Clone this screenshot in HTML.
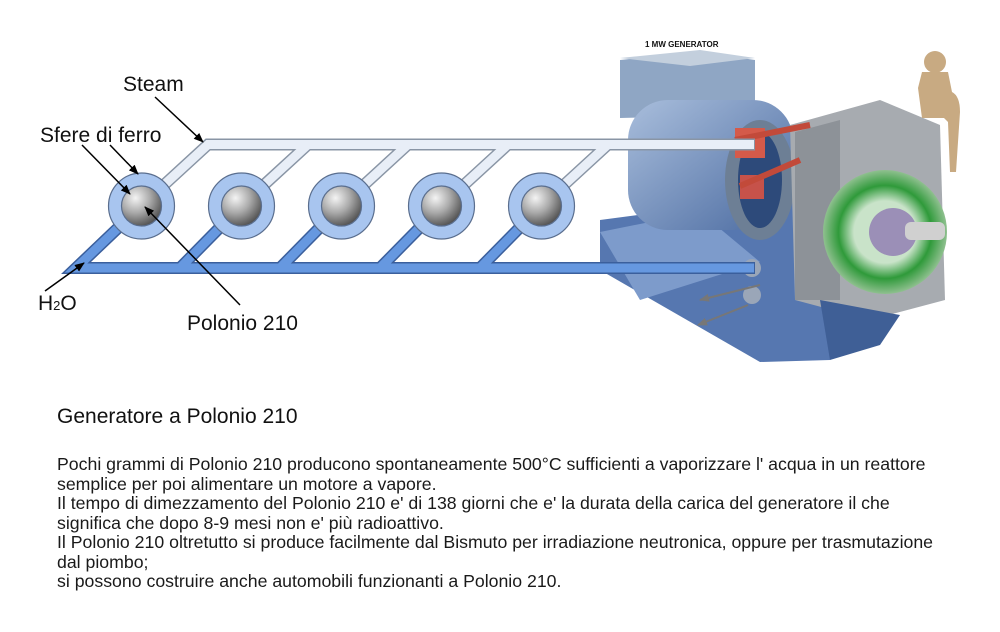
<!DOCTYPE html>
<html><head><meta charset="utf-8"><style>
html,body{margin:0;padding:0;background:#fff;}
body{width:1000px;height:632px;position:relative;overflow:hidden;font-family:"Liberation Sans",sans-serif;}
.t{position:absolute;color:#111;}
#para{position:absolute;left:57px;top:455px;font-size:17.7px;line-height:19.5px;color:#1a1a1a;white-space:nowrap;}
</style></head><body>
<svg width="1000" height="632" style="position:absolute;left:0;top:0">
<defs>
<radialGradient id="ball" cx="0.35" cy="0.3" r="0.75">
<stop offset="0" stop-color="#f4f4f4"/><stop offset="0.5" stop-color="#a9a9a9"/><stop offset="1" stop-color="#4e4e4e"/></radialGradient>
<marker id="ar" markerWidth="10" markerHeight="8" refX="9" refY="4" orient="auto" markerUnits="userSpaceOnUse">
<path d="M0,0 L10,4 L0,8 Z" fill="#000"/></marker>
<marker id="ag" markerWidth="10" markerHeight="8" refX="9" refY="4" orient="auto" markerUnits="userSpaceOnUse">
<path d="M0,0 L10,4 L0,8 Z" fill="#777"/></marker>
<linearGradient id="mb" x1="0" y1="0" x2="1" y2="1"><stop offset="0" stop-color="#a9bedc"/><stop offset="1" stop-color="#4a6aa0"/></linearGradient>
<radialGradient id="gr" cx="0.5" cy="0.5" r="0.5"><stop offset="0.5" stop-color="#c9e3c9"/><stop offset="0.75" stop-color="#2f9a3a"/><stop offset="1" stop-color="#8fc08f"/></radialGradient>
</defs>
<!-- machine -->
<g>
<polygon points="600,220 790,195 845,265 830,360 760,362 600,270" fill="#5677b0"/>
<polygon points="600,232 700,212 760,262 640,300" fill="#7d9bcb"/>
<polygon points="620,60 700,52 755,60 755,115 620,118" fill="#8fa6c4"/>
<polygon points="620,58 700,50 755,58 690,66" fill="#c3cfdd"/>
<rect x="628" y="100" width="165" height="130" rx="40" fill="url(#mb)"/>
<ellipse cx="760" cy="180" rx="35" ry="60" fill="#6d7f95"/>
<ellipse cx="760" cy="180" rx="22" ry="48" fill="#2d4a7a"/>
<polygon points="790,125 880,100 940,125 945,300 870,320 795,300" fill="#a7abb0"/>
<polygon points="795,132 840,120 840,300 795,300" fill="#8d9298"/>
<circle cx="885" cy="232" r="62" fill="url(#gr)"/>
<circle cx="893" cy="232" r="24" fill="#9b8fb7"/>
<rect x="905" y="222" width="40" height="18" rx="6" fill="#d0d0d0"/>
<polygon points="820,300 900,315 880,345 830,360" fill="#3f5f96"/>
<circle cx="935" cy="62" r="11" fill="#c8aa82"/>
<path d="M922,72 h26 l4,20 q8,4 8,20 l-4,60 h-6 l-2,-50 l-4,-4 h-22 l-4,-30 z" fill="#c8aa82"/>
<rect x="735" y="128" width="30" height="30" fill="#d45a4a"/>
<rect x="740" y="175" width="24" height="24" fill="#c6524a"/>
<path d="M735,140 L810,125" stroke="#c24a3a" stroke-width="6"/>
<path d="M740,186 L800,160" stroke="#c24a3a" stroke-width="6"/>
<circle cx="752" cy="268" r="9" fill="#9aa6b8"/>
<circle cx="752" cy="295" r="9" fill="#9aa6b8"/>
<path d="M760,285 L700,300" stroke="#777" stroke-width="2" marker-end="url(#ag)"/>
<path d="M748,305 L698,325" stroke="#777" stroke-width="2" marker-end="url(#ag)"/>
</g>
<!-- pipes -->
<g fill="none" stroke-linejoin="miter" stroke-miterlimit="10">
<g stroke="#8995a5" stroke-width="12">
<polyline points="141,206 208,144.5 755,144.5"/>
<polyline points="241,206 308,144.5"/><polyline points="341,206 408,144.5"/><polyline points="441,206 508,144.5"/><polyline points="541,206 608,144.5"/>
</g>
<g stroke="#3b5f9c" stroke-width="12">
<polyline points="141,206 76,268 755,268"/>
<polyline points="241,206 180,268"/><polyline points="341,206 280,268"/><polyline points="441,206 380,268"/><polyline points="541,206 480,268"/>
</g>
<g stroke="#e8eef7" stroke-width="9">
<polyline points="141,206 208,144.5 754,144.5"/>
<polyline points="241,206 308,144.5"/><polyline points="341,206 408,144.5"/><polyline points="441,206 508,144.5"/><polyline points="541,206 608,144.5"/>
</g>
<g stroke="#6698e0" stroke-width="9">
<polyline points="141,206 76,268 754,268"/>
<polyline points="241,206 180,268"/><polyline points="341,206 280,268"/><polyline points="441,206 380,268"/><polyline points="541,206 480,268"/>
</g>
</g>
<g stroke="#5a6e8e" stroke-width="1.2">
<circle cx="141.5" cy="206" r="33" fill="#a8c5ef"/><circle cx="141.5" cy="206" r="20" fill="url(#ball)"/>
<circle cx="241.5" cy="206" r="33" fill="#a8c5ef"/><circle cx="241.5" cy="206" r="20" fill="url(#ball)"/>
<circle cx="341.5" cy="206" r="33" fill="#a8c5ef"/><circle cx="341.5" cy="206" r="20" fill="url(#ball)"/>
<circle cx="441.5" cy="206" r="33" fill="#a8c5ef"/><circle cx="441.5" cy="206" r="20" fill="url(#ball)"/>
<circle cx="541.5" cy="206" r="33" fill="#a8c5ef"/><circle cx="541.5" cy="206" r="20" fill="url(#ball)"/>
</g>
<g stroke="#000" stroke-width="1.5" fill="none">
<line x1="155" y1="97" x2="203" y2="142" marker-end="url(#ar)"/>
<line x1="110" y1="145" x2="138" y2="174" marker-end="url(#ar)"/>
<line x1="82" y1="145" x2="130" y2="194" marker-end="url(#ar)"/>
<line x1="240" y1="305" x2="145" y2="207" marker-end="url(#ar)"/>
<line x1="45" y1="291" x2="84" y2="263" marker-end="url(#ar)"/>
</g>
<text x="123" y="91" font-size="21" font-family="Liberation Sans" fill="#111">Steam</text>
<text x="40" y="142" font-size="21" font-family="Liberation Sans" fill="#111">Sfere di ferro</text>
<text x="38" y="310" font-size="21" font-family="Liberation Sans" fill="#111">H<tspan font-size="13">2</tspan>O</text>
<text x="187" y="330" font-size="21" font-family="Liberation Sans" fill="#111">Polonio 210</text>
<text x="645" y="47" font-size="8" font-weight="bold" font-family="Liberation Sans" fill="#111">1 MW GENERATOR</text>
</svg>
<div class="t" style="left:57px;top:405px;font-size:21px;">Generatore a Polonio 210</div>
<div id="para">Pochi grammi di Polonio 210 producono spontaneamente 500°C sufficienti a vaporizzare l' acqua in un reattore<br>semplice per poi alimentare un motore a vapore.<br>Il tempo di dimezzamento del Polonio 210 e' di 138 giorni che e' la durata della carica del generatore il che<br>significa che dopo 8-9 mesi non e' più radioattivo.<br>Il Polonio 210 oltretutto si produce facilmente dal Bismuto per irradiazione neutronica, oppure per trasmutazione<br>dal piombo;<br>si possono costruire anche automobili funzionanti a Polonio 210.</div>
</body></html>
